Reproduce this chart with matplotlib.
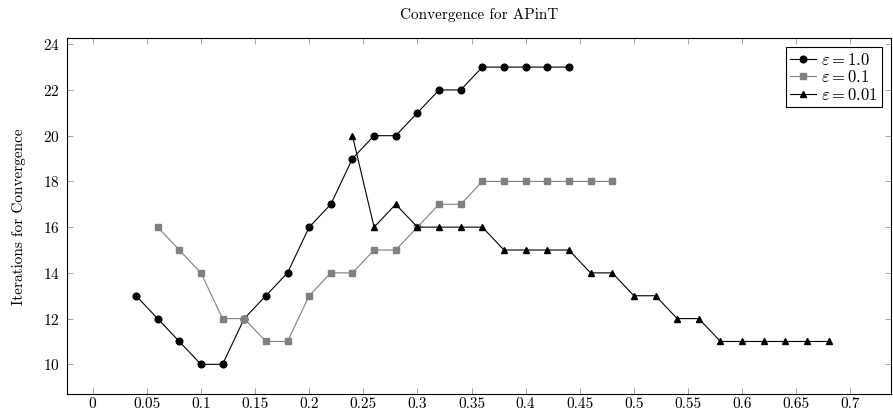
import matplotlib
matplotlib.use("Agg")
import matplotlib.pyplot as plt
import numpy as np

plt.rcParams['font.family'] = 'serif'
plt.rcParams['font.serif'] = ['cmr10', 'DejaVu Serif']
plt.rcParams['mathtext.fontset'] = 'cm'
plt.rcParams['axes.formatter.use_mathtext'] = True

# data
x1 = np.round(np.arange(0.04, 0.44 + 1e-9, 0.02), 2)
y1 = [13, 12, 11, 10, 10, 12, 13, 14, 16, 17, 19, 20, 20, 21, 22, 22, 23, 23, 23, 23, 23]

x2 = np.round(np.arange(0.06, 0.48 + 1e-9, 0.02), 2)
y2 = [16, 15, 14, 12, 12, 11, 11, 13, 14, 14, 15, 15, 16, 17, 17, 18, 18, 18, 18, 18, 18, 18]

x3 = np.round(np.arange(0.24, 0.68 + 1e-9, 0.02), 2)
y3 = [20, 16, 17, 16, 16, 16, 16, 15, 15, 15, 15, 14, 14, 13, 13, 12, 12, 11, 11, 11, 11, 11, 11]

labels = [r'$\varepsilon = 1.0$', r'$\varepsilon = 0.1$', r'$\varepsilon = 0.01$']
xticks = [0, 0.05, 0.1, 0.15, 0.2, 0.25, 0.3, 0.35, 0.4, 0.45, 0.5, 0.55, 0.6, 0.65, 0.7]
xticklabels = ['0', '0.05', '0.1', '0.15', '0.2', '0.25', '0.3', '0.35', '0.4', '0.45', '0.5', '0.55', '0.6', '0.65', '0.7']
yticks = [10, 12, 14, 16, 18, 20, 22, 24]

fig = plt.figure(figsize=(8.93, 4.13), dpi=100)
ax = fig.add_axes([0.0747, 0.0453, 0.9236, 0.8620])

ax.plot(x1, y1, color='k', lw=0.8, marker='o', ms=4.8, label=labels[0])
ax.plot(x2, y2, color='#808080', lw=0.8, marker='s', ms=4.3, label=labels[1])
ax.plot(x3, y3, color='k', lw=0.8, marker='^', ms=4.5, label=labels[2])

ax.set_xlim(-0.024, 0.738)
ax.set_ylim(8.69, 24.26)
ax.set_xticks(xticks)
ax.set_xticklabels(xticklabels)
ax.set_yticks(yticks)
ax.tick_params(direction='in', length=4, width=0.5, color='#808080', labelsize=11,
               top=True, right=True)
ax.tick_params(axis='x', pad=2.5)
ax.tick_params(axis='y', pad=5)
for s in ax.spines.values():
    s.set_linewidth(0.8)

ax.set_title('Convergence for APinT', fontsize=11, pad=14)
ax.set_ylabel('Iterations for Convergence', fontsize=11, labelpad=12)

leg = ax.legend(loc='upper right', fontsize=12, handlelength=1.6, handletextpad=0.3,
                fancybox=False, framealpha=1, edgecolor='k', borderpad=0.25,
                labelspacing=0.1, borderaxespad=0.55)
leg.get_frame().set_linewidth(0.8)

plt.savefig('out.png', dpi=100)
